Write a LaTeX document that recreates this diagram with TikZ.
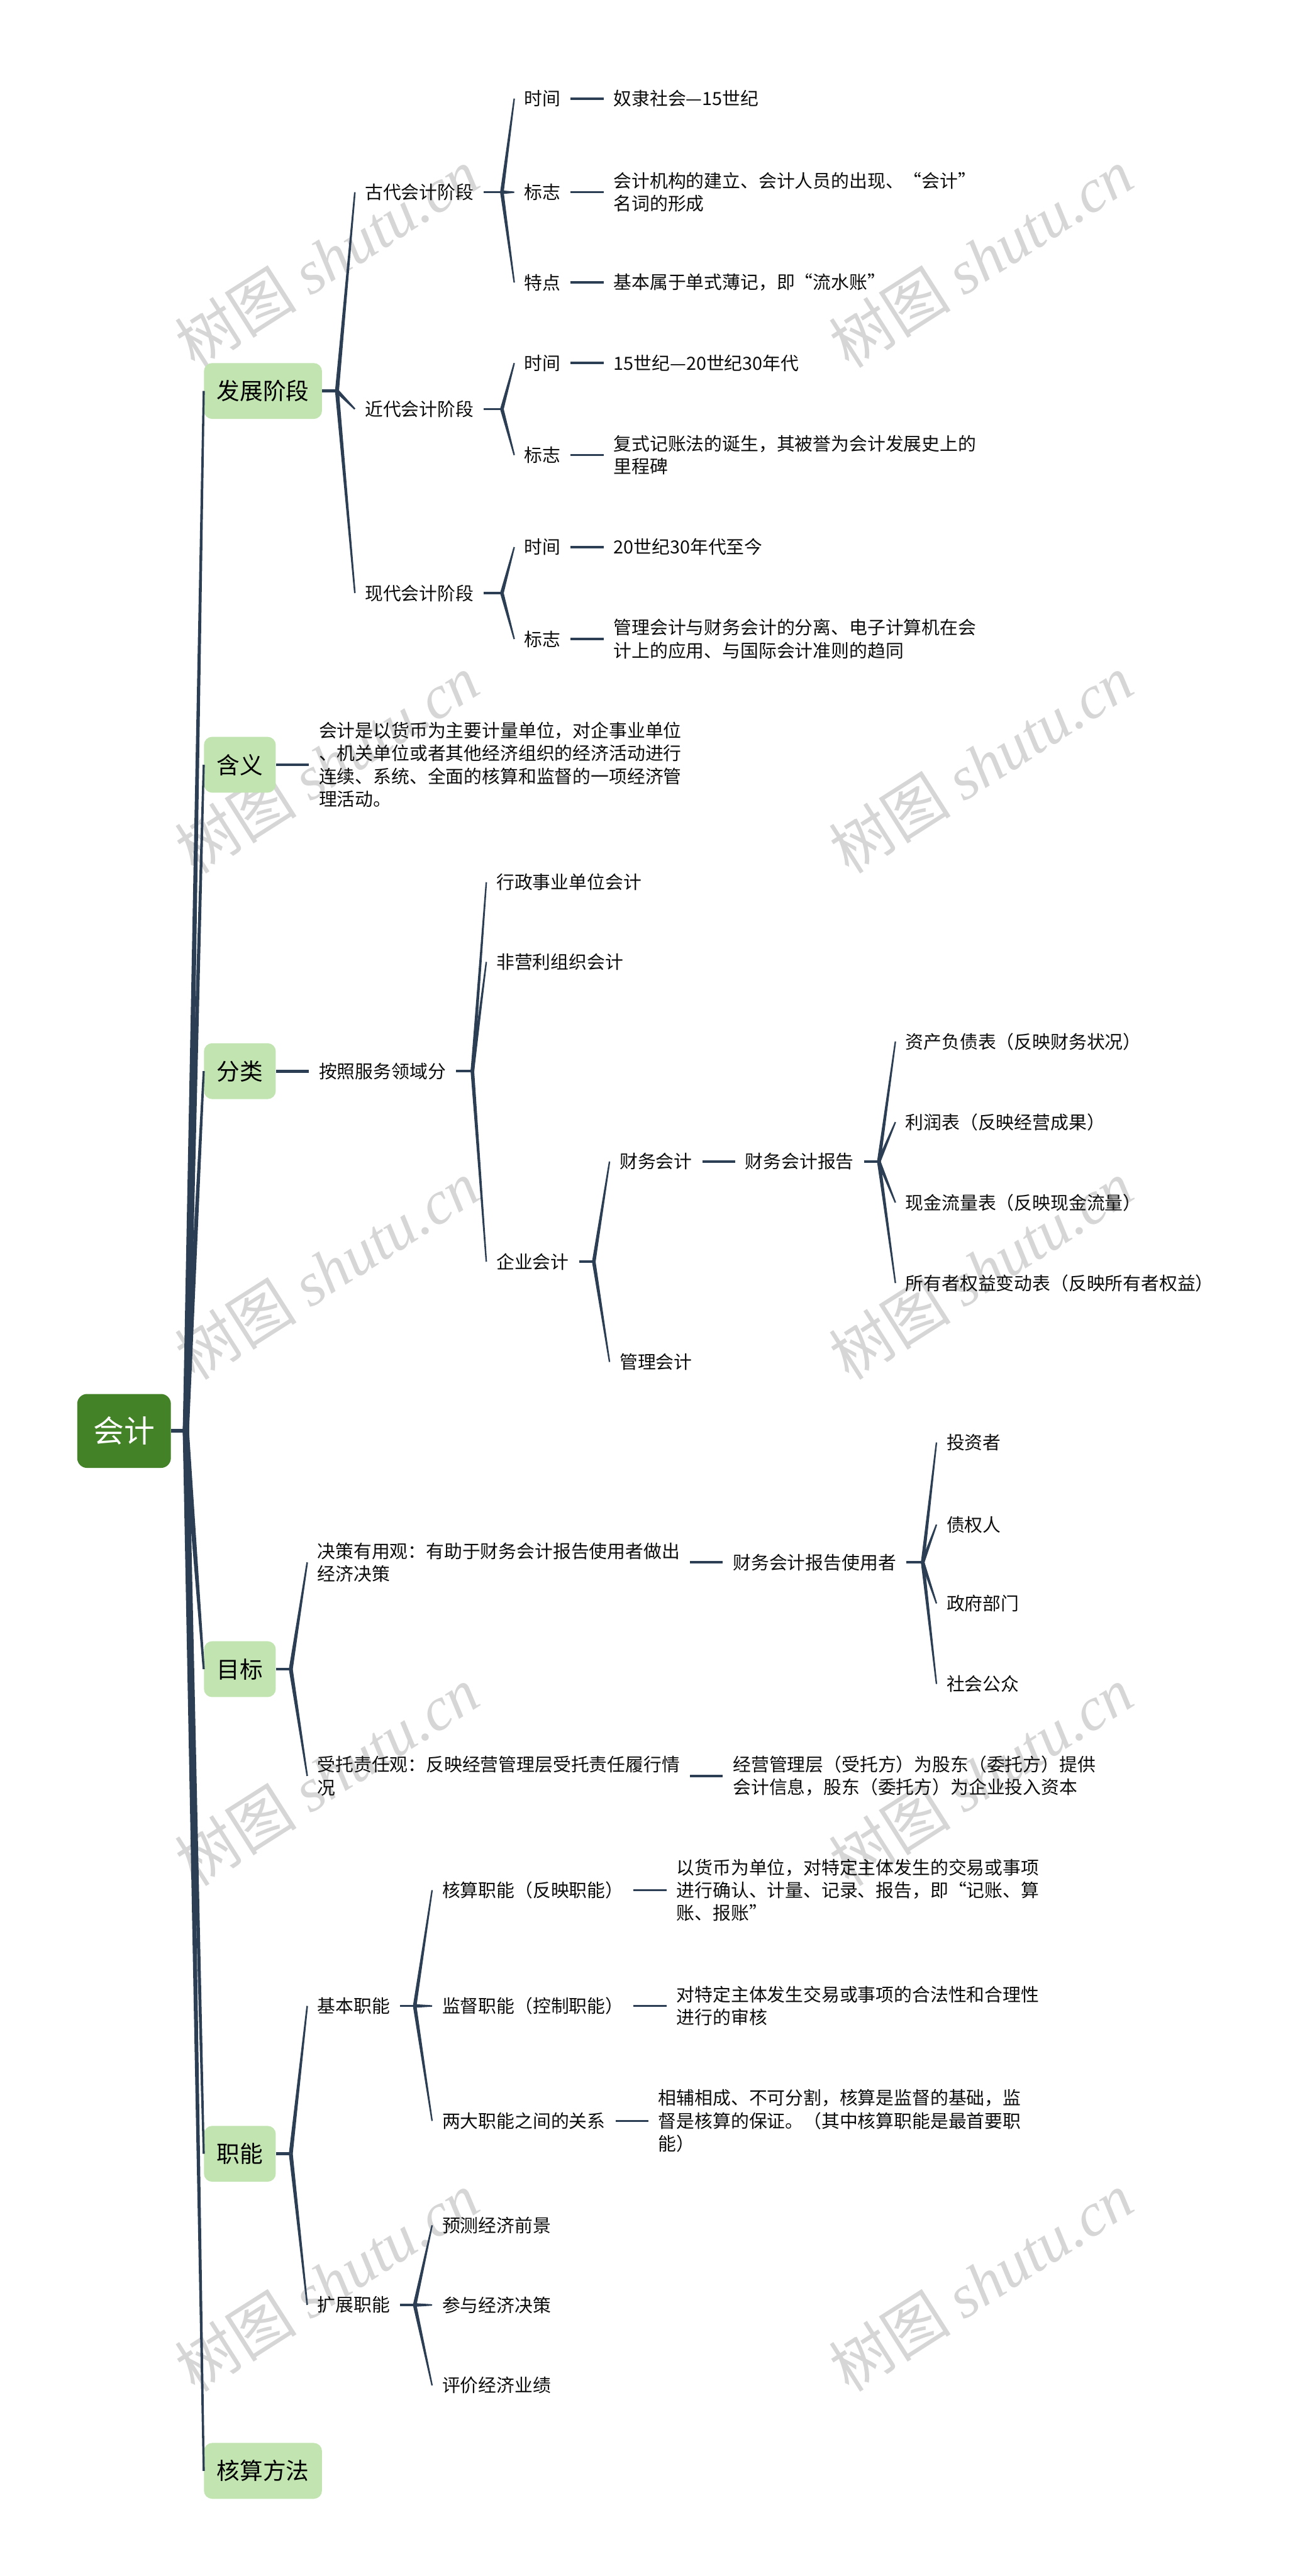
\documentclass[tikz,border=0pt]{standalone}
\usepackage{fontspec}
\setmainfont{Noto Sans CJK SC}
\newfontfamily\wmfont{Liberation Serif}
\usetikzlibrary{positioning,calc}

\definecolor{linecol}{RGB}{44,62,84}
\definecolor{rootgreen}{RGB}{68,130,40}
\definecolor{topicgreen}{RGB}{193,228,177}
\definecolor{wmgray}{RGB}{214,214,214}

% tapered branch: from #1 to #2, half widths #3 and #4
\newcommand\twig[4]{%
  \fill[linecol] ($(#1)!#3!90:(#2)$) -- ($(#2)!#4!-90:(#1)$)
    -- ($(#2)!#4!90:(#1)$) -- ($(#1)!#3!-90:(#2)$) -- cycle;}

\begin{document}
\begin{tikzpicture}[
  x=0.5mm, y=-0.5mm,
  font=\fontsize{15.7pt}{19.8pt}\selectfont,
  node distance=10mm,
  hub/.style={rectangle, rounded corners=3mm, fill=rootgreen, text=white,
              font=\fontsize{26.6pt}{30pt}\selectfont,
              minimum width=28.5mm, minimum height=22.5mm, inner sep=0pt},
  topic/.style={rectangle, rounded corners=2.5mm, fill=topicgreen, text=black,
                font=\fontsize{20pt}{24pt}\selectfont, anchor=west,
                minimum height=17mm, inner xsep=3.9mm, inner ysep=0pt},
  note/.style={inner xsep=3mm, inner ysep=1mm, align=left, text=black!95},
  stub/.style={draw=linecol, line width=0.7mm},
  wm/.style={text=wmgray, rotate=32.5, inner sep=0pt,
             font=\fontsize{53pt}{53pt}\selectfont}
]
% page
\path[use as bounding box, fill=white] (0,0) rectangle (791,1568);

% watermark
\foreach \wy in {157,465,773,1081,1389} {
  \node[wm] (wmL\wy) at (199,\wy) {树图 {\wmfont\itshape shutu.cn}};
  \node[wm] (wmR\wy) at (597,\wy) {树图 {\wmfont\itshape shutu.cn}};
}

% root and main topics
\node[hub] (acct) at (75.5,871) {会计};
\node[topic] (dev)  at (124,238)   {发展阶段};
\node[topic] (mean) at (124,465.5) {含义};
\node[topic] (cls)  at (124,652)   {分类};
\node[topic] (goal) at (124,1016)  {目标};
\node[topic] (func) at (124,1311)  {职能};
\node[topic] (meth) at (124,1504)  {核算方法};

% 发展阶段
\node[note, anchor=west] (anc) at (216,117) {古代会计阶段};
\node[note, anchor=west] (mod) at (216,249) {近代会计阶段};
\node[note, anchor=west] (now) at (216,361) {现代会计阶段};

\node[note, anchor=west] (a1) at (313,60)  {时间};
\node[note, anchor=west] (a2) at (313,117) {标志};
\node[note, anchor=west] (a3) at (313,172) {特点};
\node[note, right=of a1] (a1t) {奴隶社会—15世纪};
\node[note, right=of a2] (a2t) {会计机构的建立、会计人员的出现、“会计”\\名词的形成};
\node[note, right=of a3] (a3t) {基本属于单式薄记，即“流水账”};

\node[note, anchor=west] (b1) at (313,221) {时间};
\node[note, anchor=west] (b2) at (313,277) {标志};
\node[note, right=of b1] (b1t) {15世纪—20世纪30年代};
\node[note, right=of b2] (b2t) {复式记账法的诞生，其被誉为会计发展史上的\\里程碑};

\node[note, anchor=west] (c1) at (313,333) {时间};
\node[note, anchor=west] (c2) at (313,389) {标志};
\node[note, right=of c1] (c1t) {20世纪30年代至今};
\node[note, right=of c2] (c2t) {管理会计与财务会计的分离、电子计算机在会\\计上的应用、与国际会计准则的趋同};

% 含义
\node[note, right=of mean] (meant) {会计是以货币为主要计量单位，对企事业单位\\、机关单位或者其他经济组织的经济活动进行\\连续、系统、全面的核算和监督的一项经济管\\理活动。};

% 分类
\node[note, right=of cls] (k0) {按照服务领域分};
\node[note, anchor=west] (k1) at (296,537)   {行政事业单位会计};
\node[note, anchor=west] (k2) at (296,585.5) {非营利组织会计};
\node[note, anchor=west] (k3) at (296,768)   {企业会计};
\node[note, anchor=west] (k31) at (371,707) {财务会计};
\node[note, anchor=west] (k32) at (371,829) {管理会计};
\node[note, right=of k31] (k4) {财务会计报告};
\node[note, anchor=west] (r1) at (545,634) {资产负债表（反映财务状况）};
\node[note, anchor=west] (r2) at (545,683) {利润表（反映经营成果）};
\node[note, anchor=west] (r3) at (545,732) {现金流量表（反映现金流量）};
\node[note, anchor=west] (r4) at (545,781) {所有者权益变动表（反映所有者权益）};

% 目标
\node[note, anchor=west] (g1) at (187,951)  {决策有用观：有助于财务会计报告使用者做出\\经济决策};
\node[note, anchor=west] (g2) at (187,1081) {受托责任观：反映经营管理层受托责任履行情\\况};
\node[note, right=of g1] (u0) {财务会计报告使用者};
\node[note, anchor=west] (u1) at (570,878)  {投资者};
\node[note, anchor=west] (u2) at (570,928)  {债权人};
\node[note, anchor=west] (u3) at (570,976)  {政府部门};
\node[note, anchor=west] (u4) at (570,1025) {社会公众};
\node[note, right=of g2] (t0) {经营管理层（受托方）为股东（委托方）提供\\会计信息，股东（委托方）为企业投入资本};

% 职能
\node[note, anchor=west] (h1) at (187,1221) {基本职能};
\node[note, anchor=west] (h2) at (187,1403) {扩展职能};
\node[note, anchor=west] (h11) at (263,1150.5) {核算职能（反映职能）};
\node[note, anchor=west] (h12) at (263,1221)   {监督职能（控制职能）};
\node[note, anchor=west] (h13) at (263,1291)   {两大职能之间的关系};
\node[note, right=of h11] (h11t) {以货币为单位，对特定主体发生的交易或事项\\进行确认、计量、记录、报告，即“记账、算\\账、报账”};
\node[note, right=of h12] (h12t) {对特定主体发生交易或事项的合法性和合理性\\进行的审核};
\node[note, right=of h13] (h13t) {相辅相成、不可分割，核算是监督的基础，监\\督是核算的保证。（其中核算职能是最首要职\\能）};
\node[note, anchor=west] (e1) at (263,1354.5) {预测经济前景};
\node[note, anchor=west] (e2) at (263,1403)   {参与经济决策};
\node[note, anchor=west] (e3) at (263,1452)   {评价经济业绩};

% trunk
\coordinate (tr) at ($(acct.east)+(4.5mm,0mm)$);
\draw[stub, line width=1.2mm] (acct.east) -- (tr);
\foreach \t in {dev,mean,cls,goal,func,meth} {\twig{tr}{\t.west}{0.95mm}{0.32mm}}

% forks
\coordinate (fdev) at ($(dev.east)+(4.5mm,0mm)$);
\draw[stub, line width=0.9mm] (dev.east) -- (fdev);
\foreach \c in {anc,mod,now} {\twig{fdev}{\c.west}{0.6mm}{0.24mm}}

\coordinate (fanc) at ($(anc.east)+(5.5mm,0mm)$);
\draw[stub] (anc.east) -- (fanc);
\foreach \c in {a1,a2,a3} {\twig{fanc}{\c.west}{0.55mm}{0.22mm}}
\coordinate (fmod) at ($(mod.east)+(5.5mm,0mm)$);
\draw[stub] (mod.east) -- (fmod);
\foreach \c in {b1,b2} {\twig{fmod}{\c.west}{0.55mm}{0.22mm}}
\coordinate (fnow) at ($(now.east)+(5.5mm,0mm)$);
\draw[stub] (now.east) -- (fnow);
\foreach \c in {c1,c2} {\twig{fnow}{\c.west}{0.55mm}{0.22mm}}

\coordinate (fk0) at ($(k0.east)+(5mm,0mm)$);
\draw[stub] (k0.east) -- (fk0);
\foreach \c in {k1,k2,k3} {\twig{fk0}{\c.west}{0.55mm}{0.22mm}}
\coordinate (fk3) at ($(k3.east)+(4.5mm,0mm)$);
\draw[stub] (k3.east) -- (fk3);
\foreach \c in {k31,k32} {\twig{fk3}{\c.west}{0.55mm}{0.22mm}}
\coordinate (fk4) at ($(k4.east)+(4.5mm,0mm)$);
\draw[stub] (k4.east) -- (fk4);
\foreach \c in {r1,r2,r3,r4} {\twig{fk4}{\c.west}{0.55mm}{0.22mm}}

\coordinate (fgoal) at ($(goal.east)+(4.5mm,0mm)$);
\draw[stub, line width=0.9mm] (goal.east) -- (fgoal);
\foreach \c in {g1,g2} {\twig{fgoal}{\c.west}{0.6mm}{0.24mm}}
\coordinate (fu0) at ($(u0.east)+(5mm,0mm)$);
\draw[stub] (u0.east) -- (fu0);
\foreach \c in {u1,u2,u3,u4} {\twig{fu0}{\c.west}{0.55mm}{0.22mm}}

\coordinate (ffunc) at ($(func.east)+(4.5mm,0mm)$);
\draw[stub, line width=0.9mm] (func.east) -- (ffunc);
\foreach \c in {h1,h2} {\twig{ffunc}{\c.west}{0.6mm}{0.24mm}}
\coordinate (fh1) at ($(h1.east)+(4.5mm,0mm)$);
\draw[stub] (h1.east) -- (fh1);
\foreach \c in {h11,h12,h13} {\twig{fh1}{\c.west}{0.55mm}{0.22mm}}
\coordinate (fh2) at ($(h2.east)+(4.5mm,0mm)$);
\draw[stub] (h2.east) -- (fh2);
\foreach \c in {e1,e2,e3} {\twig{fh2}{\c.west}{0.55mm}{0.22mm}}

% single links
\draw[stub, line width=0.9mm] (mean) -- (meant);
\draw[stub, line width=0.9mm] (cls) -- (k0);
\draw[stub] (a1) -- (a1t);
\draw[stub] (a2) -- (a2t);
\draw[stub] (a3) -- (a3t);
\draw[stub] (b1) -- (b1t);
\draw[stub] (b2) -- (b2t);
\draw[stub] (c1) -- (c1t);
\draw[stub] (c2) -- (c2t);
\draw[stub] (k31) -- (k4);
\draw[stub] (g1) -- (u0);
\draw[stub] (g2) -- (t0);
\draw[stub] (h11) -- (h11t);
\draw[stub] (h12) -- (h12t);
\draw[stub] (h13) -- (h13t);

\end{tikzpicture}
\end{document}
